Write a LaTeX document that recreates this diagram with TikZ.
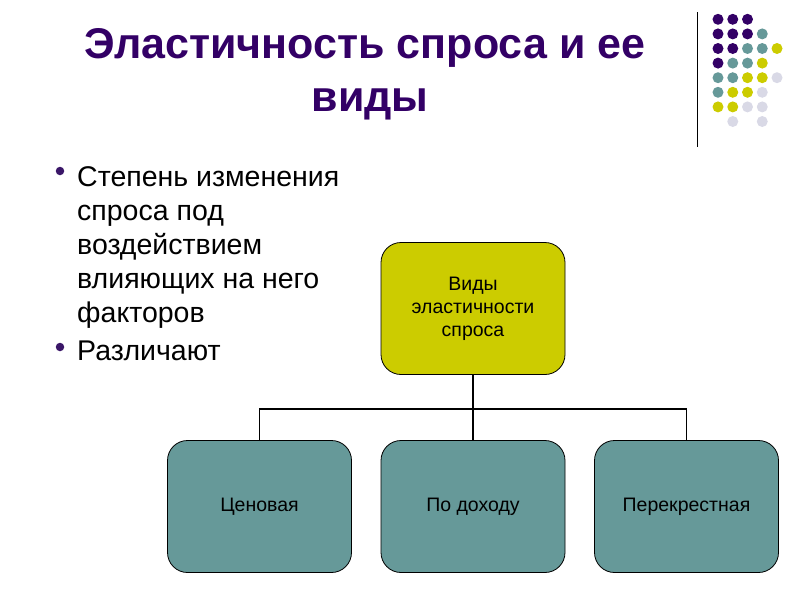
\documentclass[tikz,border=0pt]{standalone}
\usepackage{fontspec}
\setmainfont{Liberation Sans}
\definecolor{tpurple}{HTML}{330066}
\definecolor{dpurple}{HTML}{3A1668}
\definecolor{dteal}{HTML}{669999}
\definecolor{dyellow}{HTML}{CCCC00}
\definecolor{dlav}{HTML}{D9D9E6}
\tikzset{
  x=1pt,y=-1pt,
  box/.style={draw=black,line width=0.8pt,rounded corners=20pt,minimum width=184pt,minimum height=132pt,inner sep=0pt,align=center,font=\fontsize{19.5}{23}\selectfont},
  ybox/.style={box,fill=dyellow},
  tbox/.style={box,fill=dteal},
  conn/.style={draw=black,line width=1.6pt},
  dotP/.style={circle,fill=tpurple,minimum size=11pt,inner sep=0pt},
  dotT/.style={circle,fill=dteal,minimum size=11pt,inner sep=0pt},
  dotY/.style={circle,fill=dyellow,minimum size=11pt,inner sep=0pt},
  dotL/.style={circle,fill=dlav,minimum size=11pt,inner sep=0pt},
  bul/.style={circle,fill=dpurple,minimum size=8.5pt,inner sep=0pt},
  btext/.style={anchor=base west,inner sep=0pt,font=\fontsize{28.5}{35}\selectfont},
  ttext/.style={anchor=base,inner sep=0pt,text=tpurple,font=\bfseries\fontsize{43}{53}\selectfont}
}
\begin{document}
\begin{tikzpicture}
\useasboundingbox (0,0) rectangle (800,600);
% title
\node[ttext] (title1) at (365,58) {Эластичность спроса и ее};
\node[ttext] (title2) at (370,111) {виды};
% decorative grid
\draw[black,line width=1pt] (697,12) -- (697,147);
\foreach \c/\r/\s in {1/1/P,2/1/P,3/1/P,
  1/2/P,2/2/P,3/2/P,4/2/T,
  1/3/P,2/3/P,3/3/T,4/3/T,5/3/Y,
  1/4/P,2/4/T,3/4/T,4/4/Y,
  1/5/T,2/5/T,3/5/Y,4/5/Y,5/5/L,
  1/6/T,2/6/Y,3/6/Y,4/6/L,
  1/7/Y,2/7/Y,3/7/L,4/7/L,
  2/8/L,4/8/L}{
  \node[dot\s] (d\r-\c) at ({718+14.75*(\c-1)},{19.3+14.6*(\r-1)}) {};
}
% bullets
\node[bul] (b1) at (60,171) {};
\node[btext] (t1) at (77,186) {Степень изменения};
\node[btext] (t2) at (77,220.5) {спроса под};
\node[btext] (t3) at (77,254.5) {воздействием};
\node[btext] (t4) at (77,288.5) {влияющих на него};
\node[btext] (t5) at (77,322.5) {факторов};
\node[bul] (b2) at (60,347) {};
\node[btext] (t6) at (77,360) {Различают};
% boxes
\node[ybox] (top) at (473,308.5) {Виды\\эластичности\\спроса};
\node[tbox] (c1) at (259.5,506.5) {Ценовая};
\node[tbox] (c2) at (473,506.5) {По доходу};
\node[tbox] (c3) at (686.5,506.5) {Перекрестная};
\coordinate (j) at (473,409);
\draw[conn] (top.south) -- (j);
\draw[conn] (c1.north) |- (j) -| (c3.north);
\draw[conn] (j) -- (c2.north);
\end{tikzpicture}
\end{document}
